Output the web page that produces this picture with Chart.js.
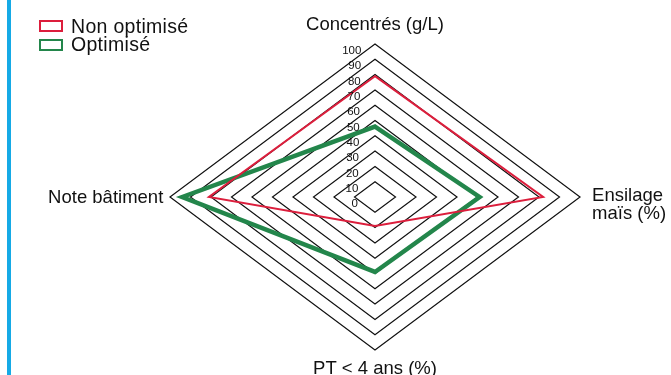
<!DOCTYPE html>
<html lang="fr">
<head>
    <meta charset="UTF-8">
    <meta name="viewport" content="width=device-width, initial-scale=1.0">
    <title>Profil radar : non optimisé / optimisé</title>
    <style>
        body {
            margin: 0;
            background: #fff;
        }

        .wrap {
            position: relative;
            width: 671px;
            height: 375px;
            overflow: hidden;
            font-family: "Liberation Sans", Arial, sans-serif;
        }

        /* filet bleu en marge gauche */
        .wrap::before {
            content: "";
            position: absolute;
            left: 7px;
            top: 0;
            width: 4px;
            height: 100%;
            background: #15aae6;
        }

        canvas {
            position: absolute;
            left: 0;
            top: 0;
        }

        #legend {
            position: absolute;
            left: 39px;
            top: 17px;
            margin: 0;
            padding: 0;
            list-style: none;
            z-index: 1;
        }

        #legend li {
            display: flex;
            align-items: center;
            height: 18.5px;
            font-size: 19.5px;
            letter-spacing: 0.3px;
            color: #111;
        }

        #legend .box {
            box-sizing: border-box;
            width: 24px;
            height: 12px;
            border: 2px solid;
            margin-right: 8px;
            background: #fff;
        }
    </style>
</head>
<body>
    <div class="wrap">
        <canvas id="radarChart" width="671" height="375"></canvas>
        <ul id="legend"></ul>
    </div>

    <script src="https://cdn.jsdelivr.net/npm/chart.js"></script>

    <script>
        // Données
        const categories = ['Concentrés (g/L)', ['Ensilage', 'maïs (%)'], 'PT < 4 ans (%)', 'Note bâtiment'];
        const seriesNames = ['Non optimisé', 'Optimisé'];
        const nonOptimise = [79, 82, 19, 81];
        const optimise = [46, 51, 49, 94];
        const tickLabels = ['0', '10', '20', '30', '40', '50', '60', '70', '80', '90', '100'];

        // Le losange de la figure est plus large que haut : on étire l'axe horizontal
        const X_STRETCH = 1.34;
        const basePointPosition = Chart.RadialLinearScale.prototype.getPointPosition;
        Chart.RadialLinearScale.prototype.getPointPosition = function (index, distance, angle) {
            const p = basePointPosition.call(this, index, distance, angle);
            p.x = this.xCenter + (p.x - this.xCenter) * X_STRETCH;
            return p;
        };

        // Légende HTML (carrés vides + libellés)
        const htmlLegend = {
            id: 'htmlLegend',
            afterUpdate(chart) {
                const ul = document.getElementById('legend');
                ul.innerHTML = '';
                chart.options.plugins.legend.labels.generateLabels(chart).forEach(item => {
                    const li = document.createElement('li');
                    const box = document.createElement('span');
                    box.className = 'box';
                    box.style.borderColor = item.strokeStyle;
                    li.appendChild(box);
                    li.appendChild(document.createTextNode(item.text));
                    ul.appendChild(li);
                });
            }
        };

        // Graduations et noms des axes
        const axisText = {
            id: 'axisText',
            afterDraw(chart) {
                const scale = chart.scales.r;
                const ctx = chart.ctx;
                ctx.save();
                ctx.fillStyle = '#111';

                ctx.font = '11.5px "Liberation Sans", Arial, sans-serif';
                ctx.textAlign = 'right';
                ctx.textBaseline = 'middle';
                tickLabels.forEach(t => {
                    const d = scale.getDistanceFromCenterForValue(Number(t));
                    ctx.fillText(t, scale.xCenter - 17 + d * 0.022, scale.yCenter - d + 7);
                });

                ctx.font = '18.5px "Liberation Sans", Arial, sans-serif';
                const place = [
                    { pad: 10, align: 'center', base: 'bottom', dy: 0 },
                    { pad: 9, align: 'left', base: 'middle', dy: 8 },
                    { pad: 10, align: 'center', base: 'top', dy: 0 },
                    { pad: 5, align: 'right', base: 'middle', dy: 1 }
                ];
                const lh = 18.5;
                categories.forEach((label, i) => {
                    const o = place[i];
                    const p = scale.getPointPosition(i, scale.drawingArea + o.pad);
                    const lines = [].concat(label);
                    ctx.textAlign = o.align;
                    ctx.textBaseline = o.base;
                    const y0 = p.y + o.dy - (lines.length - 1) * lh / 2;
                    lines.forEach((ln, k) => ctx.fillText(ln, p.x, y0 + k * lh));
                });
                ctx.restore();
            }
        };

        const ctx = document.getElementById('radarChart').getContext('2d');

        new Chart(ctx, {
            type: 'radar',
            data: {
                labels: categories,
                datasets: [{
                    label: seriesNames[0],
                    data: nonOptimise,
                    borderColor: '#dc1e3c',
                    backgroundColor: '#dc1e3c',
                    borderWidth: 2,
                    fill: false,
                    pointRadius: 0
                }, {
                    label: seriesNames[1],
                    data: optimise,
                    borderColor: '#23864b',
                    backgroundColor: '#23864b',
                    borderWidth: 4.5,
                    fill: false,
                    pointRadius: 0
                }]
            },
            options: {
                responsive: false,
                animation: false,
                layout: {
                    padding: { top: 44, bottom: 24, left: 200, right: 121 }
                },
                plugins: {
                    legend: { display: false },
                    tooltip: { enabled: false }
                },
                scales: {
                    r: {
                        min: 0,
                        max: 100,
                        ticks: { stepSize: 10, display: false },
                        grid: { color: '#111', lineWidth: 1.2 },
                        angleLines: { display: false },
                        pointLabels: { display: false }
                    }
                }
            },
            plugins: [htmlLegend, axisText]
        });
    </script>
</body>
</html>
